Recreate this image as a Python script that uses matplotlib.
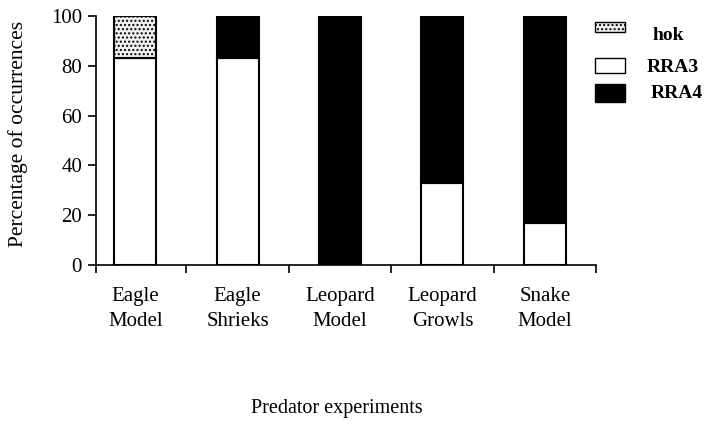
import matplotlib
matplotlib.use("Agg")
import matplotlib.pyplot as plt
from matplotlib.patches import Rectangle

plt.rcParams['font.family'] = ['Liberation Serif', 'DejaVu Serif']
plt.rcParams['hatch.color'] = '#555555'
plt.rcParams['hatch.linewidth'] = 1.0

categories = ["Eagle\nModel", "Eagle\nShrieks", "Leopard\nModel", "Leopard\nGrowls", "Snake\nModel"]
rra3 = [83, 83, 0, 33, 17]
rra4 = [0, 17, 100, 67, 83]
hok = [17, 0, 0, 0, 0]
yticks = [0, 20, 40, 60, 80, 100]

fig = plt.figure(figsize=(7.04, 4.21), dpi=100)
ax = fig.add_axes([96/704, 1-265/421, 500/704, 249/421])

x = list(range(len(categories)))
w = 0.41
ax.bar(x, rra3, w, color='white', edgecolor='black', linewidth=1.5, zorder=2)
bottom2 = rra3
ax.bar(x, rra4, w, bottom=bottom2, color='black', edgecolor='black', linewidth=1.5, zorder=2)
bottom3 = [a + b for a, b in zip(rra3, rra4)]
ax.bar(x, hok, w, bottom=bottom3, color='#f0f0f0', edgecolor='black', linewidth=1.5,
       hatch='....', zorder=2)

ax.set_xlim(-0.383, 4.5)
ax.set_ylim(0, 100)
ax.spines['top'].set_visible(False)
ax.spines['right'].set_visible(False)
ax.spines['left'].set_linewidth(1.2)
ax.spines['bottom'].set_linewidth(1.2)

ax.set_yticks(yticks)
ax.tick_params(axis='y', direction='out', length=6, width=1.2, labelsize=15, pad=4)

ax.set_xticks([-0.383, 0.5, 1.5, 2.5, 3.5, 4.5])
ax.set_xticklabels([])
ax.tick_params(axis='x', which='major', direction='out', length=6, width=1.2)
ax.set_xticks(x, minor=True)
ax.set_xticklabels(categories, minor=True, fontsize=15, linespacing=1.4)
ax.tick_params(axis='x', which='minor', length=0, pad=16)

fig.text(18/704, 1-134/421, "Percentage of occurrences", rotation=90,
         ha='center', va='center', fontsize=15.5)
fig.text(337/704, 1-408/421, "Predator experiments", ha='center', va='center', fontsize=14.5)

# legend
leg = [("hok", dict(facecolor='#f0f0f0', hatch='....'), 22, 32, 35, 653),
       ("RRA3", dict(facecolor='white'), 58, 73, 67, 647),
       ("RRA4", dict(facecolor='black'), 84, 102, 93, 651)]
for label, style, y0, y1, ty, tx in leg:
    r = Rectangle((595/704, 1-y1/421), 30/704, (y1-y0)/421, transform=fig.transFigure,
                  edgecolor='black', linewidth=1.0, **style)
    fig.patches.append(r)
    fig.text(tx/704, 1-ty/421, label, ha='left', va='center',
             fontsize=14, fontweight='bold')

fig.savefig("out.png", dpi=100)
